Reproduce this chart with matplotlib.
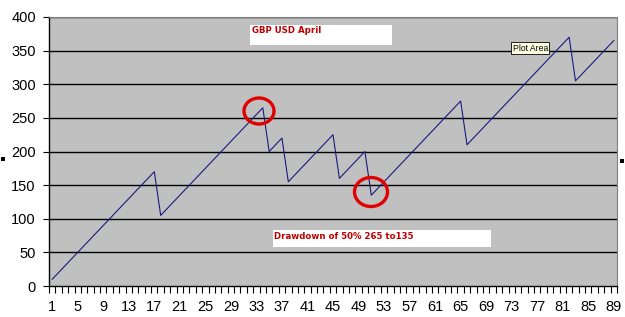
import matplotlib
matplotlib.use("Agg")
import matplotlib.pyplot as plt
from matplotlib.patches import Rectangle, Ellipse
import numpy as np

# ---- data ----
categories = list(range(1, 90))
values = [
    10, 20, 30, 40, 50, 60, 70, 80, 90, 100, 110, 120, 130, 140, 150, 160, 170,
    105, 115, 125, 135, 145, 155, 165, 175, 185, 195, 205, 215, 225, 235, 245, 255, 265,
    200, 210, 220,
    155, 165, 175, 185, 195, 205, 215, 225,
    160, 170, 180, 190, 200,
    135, 145, 155, 165, 175, 185, 195, 205, 215, 225, 235, 245, 255, 265, 275,
    210, 220, 230, 240, 250, 260, 270, 280, 290, 300, 310, 320, 330, 340, 350, 360, 370,
    305, 315, 325, 335, 345, 355, 365,
]
x_tick_labels = [str(c) for c in range(1, 90, 4)]
y_ticks = [0, 50, 100, 150, 200, 250, 300, 350, 400]
title_text = "GBP USD April"
note_text = "Drawdown of 50% 265 to135"
tooltip_text = "Plot Area"

W, H = 625, 317
fig = plt.figure(figsize=(W / 100, H / 100), dpi=100)
fig.patch.set_facecolor("white")

def fx(px):
    return px / W

def fy(py):
    return 1 - py / H

L, R, T, B = 49, 617, 17, 286
ax = fig.add_axes([fx(L), fy(B), fx(R) - fx(L), fy(T) - fy(B)])
ax.set_facecolor("#C0C0C0")

for yv in y_ticks[1:]:
    ax.axhline(yv, color="black", lw=1.0, zorder=1)

ax.plot(categories, values, color="#1a1a80", lw=0.8, zorder=3)

ax.set_xlim(0.5, 89.5)
ax.set_ylim(0, 400)
ax.set_yticks(y_ticks)
ax.set_yticklabels([str(v) for v in y_ticks], fontsize=10.5, family="Liberation Sans")
ax.set_xticks(list(range(1, 90, 4)))
ax.set_xticklabels(x_tick_labels, fontsize=10.5, family="Liberation Sans")
ax.set_xticks(np.arange(0.5, 90, 1), minor=True)
ax.tick_params(axis="x", which="major", length=0, pad=10)
ax.tick_params(axis="x", which="minor", length=5, width=0.8, color="black", direction="out")
ax.tick_params(axis="y", which="major", length=4.5, width=0.8, pad=5)

for s in ["top", "right"]:
    ax.spines[s].set_color("#808080")
    ax.spines[s].set_linewidth(0.8)
for s in ["left", "bottom"]:
    ax.spines[s].set_color("black")
    ax.spines[s].set_linewidth(1.0)

def box(x0, y0, x1, y1, fc, ec=None, lw=0, z=5):
    r = Rectangle((fx(x0), fy(y1)), fx(x1) - fx(x0), fy(y0) - fy(y1),
                  transform=fig.transFigure, facecolor=fc,
                  edgecolor=ec if ec else fc, lw=lw, zorder=z)
    fig.add_artist(r)

# title box
box(250, 25, 392, 45, "white")
fig.text(fx(252), fy(30.5), title_text, color="#C00000", fontsize=6.2,
         fontweight="bold", family="DejaVu Sans", va="center", ha="left", zorder=6)

# drawdown box
box(273, 230, 491, 247, "white")
fig.text(fx(274), fy(236.5), note_text, color="#C00000", fontsize=6.2,
         fontweight="bold", family="DejaVu Sans", va="center", ha="left", zorder=6)

# tooltip
box(511, 42, 549, 54, "#FFFFE1", ec="black", lw=0.6, z=7)
fig.text(fx(513), fy(48.5), tooltip_text, color="black", fontsize=6.2,
         family="Liberation Sans", va="center", ha="left", zorder=8)

# red hand-drawn circles
for cx, cy, w, h in [(259, 111, 30, 26), (371, 192, 33, 29)]:
    e = Ellipse((fx(cx), fy(cy)), w / W, h / H, transform=fig.transFigure,
                facecolor="none", edgecolor="#E00000", lw=2.4, zorder=9)
    fig.add_artist(e)

# selection handles
box(1, 157, 5, 161, "black")
box(620, 159, 624, 163, "black")

fig.savefig("out.png", dpi=100)
